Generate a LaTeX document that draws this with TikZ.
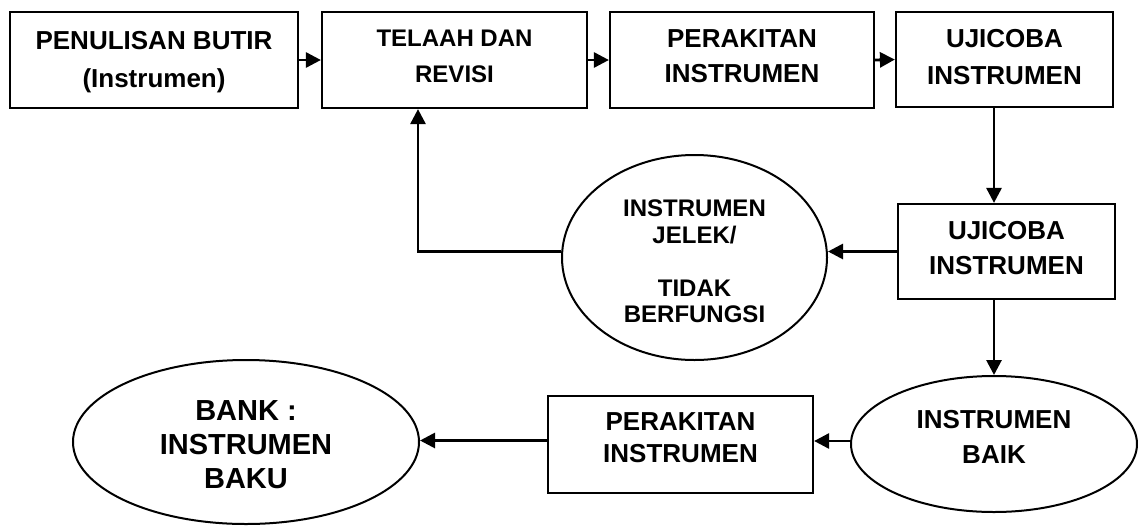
\documentclass[tikz,border=0pt]{standalone}
\usepackage{fontspec}
\setmainfont{Liberation Sans}
\usetikzlibrary{shapes.geometric,arrows.meta,calc}

\begin{document}
\begin{tikzpicture}[x=1pt,y=-1pt,
  stepbox/.style={draw,line width=2.2pt,rectangle,inner sep=0pt},
  oval/.style={draw,line width=2pt,ellipse,inner sep=0pt},
  lbl/.style={align=center,inner sep=0pt,font=\bfseries\fontsize{26}{35}\selectfont},
  lblsmall/.style={lbl,font=\bfseries\fontsize{24}{36}\selectfont},
  flow/.style={line width=2.8pt,-{Triangle[length=15pt,width=15pt]}}]
\useasboundingbox[fill=white] (0,0) rectangle (1138,528);

% top row of process boxes
\node[stepbox,minimum width=288pt,minimum height=96pt] (b1) at (154,60) {};
\node[stepbox,minimum width=265pt,minimum height=96pt] (b2) at (454.5,60) {};
\node[stepbox,minimum width=264pt,minimum height=96pt] (b3) at (742,60) {};
\node[stepbox,minimum width=217pt,minimum height=95pt] (b4) at (1004.5,59.5) {};

% second trial, its two outcomes and the final assembly
\node[stepbox,minimum width=217pt,minimum height=95pt] (b5) at (1006.5,251.5) {};
\node[oval,minimum width=265pt,minimum height=205pt] (e1) at (694.5,257.5) {};
\node[oval,minimum width=286pt,minimum height=136pt] (e2) at (994,444) {};
\node[stepbox,minimum width=265pt,minimum height=97pt] (b6) at (680.5,444.5) {};
\node[oval,minimum width=346pt,minimum height=164pt] (e3) at (246,442) {};

% labels
\node[lbl,font=\bfseries\fontsize{26}{38}\selectfont] (t1) at (154,62) {PENULISAN BUTIR\\(Instrumen)};
\node[lblsmall] (t2) at (454.5,56) {TELAAH DAN\\REVISI};
\node[lbl] (t3) at (742,56) {PERAKITAN\\INSTRUMEN};
\node[lbl,font=\bfseries\fontsize{26}{37}\selectfont] (t4) at (1004.5,57.5) {UJICOBA\\INSTRUMEN};
\node[lbl] (t5) at (1006.5,248.5) {UJICOBA\\INSTRUMEN};
\node[lblsmall,font=\bfseries\fontsize{24}{26.5}\selectfont] (te1) at (694.5,261.5) {INSTRUMEN\\JELEK/\\[26.5pt]TIDAK\\BERFUNGSI};
\node[lbl] (te2) at (994,436.5) {INSTRUMEN\\BAIK};
\node[lbl,font=\bfseries\fontsize{26}{32}\selectfont] (t6) at (680.5,438) {PERAKITAN\\INSTRUMEN};
\node[lbl,font=\bfseries\fontsize{29}{34}\selectfont] (te3) at (246,445) {BANK :\\INSTRUMEN\\BAKU};

% connectors
\draw[flow] (b1.east) -- (b2.west);
\draw[flow] (b2.east) -- (b3.west);
\draw[flow] (b3.east) -- (b4.west);
\draw[flow] (e2.north |- b4.south) -- (e2.north |- b5.north);
\draw[flow] (b5.west) -- (b5.west -| e1.east);
\draw[flow] (e1.west |- b5.west) -| ([xshift=-36.5pt]b2.south);
\draw[flow] (e2.north |- b5.south) -- (e2.north);
\coordinate (m2) at ($(e2.west)+(0,-3)$);
\draw[flow] (m2) -- (m2 -| b6.east);
\coordinate (m3) at ($(b6.west)+(0,-4)$);
\draw[flow] (m3) -- (m3 -| e3.east);
\end{tikzpicture}
\end{document}
